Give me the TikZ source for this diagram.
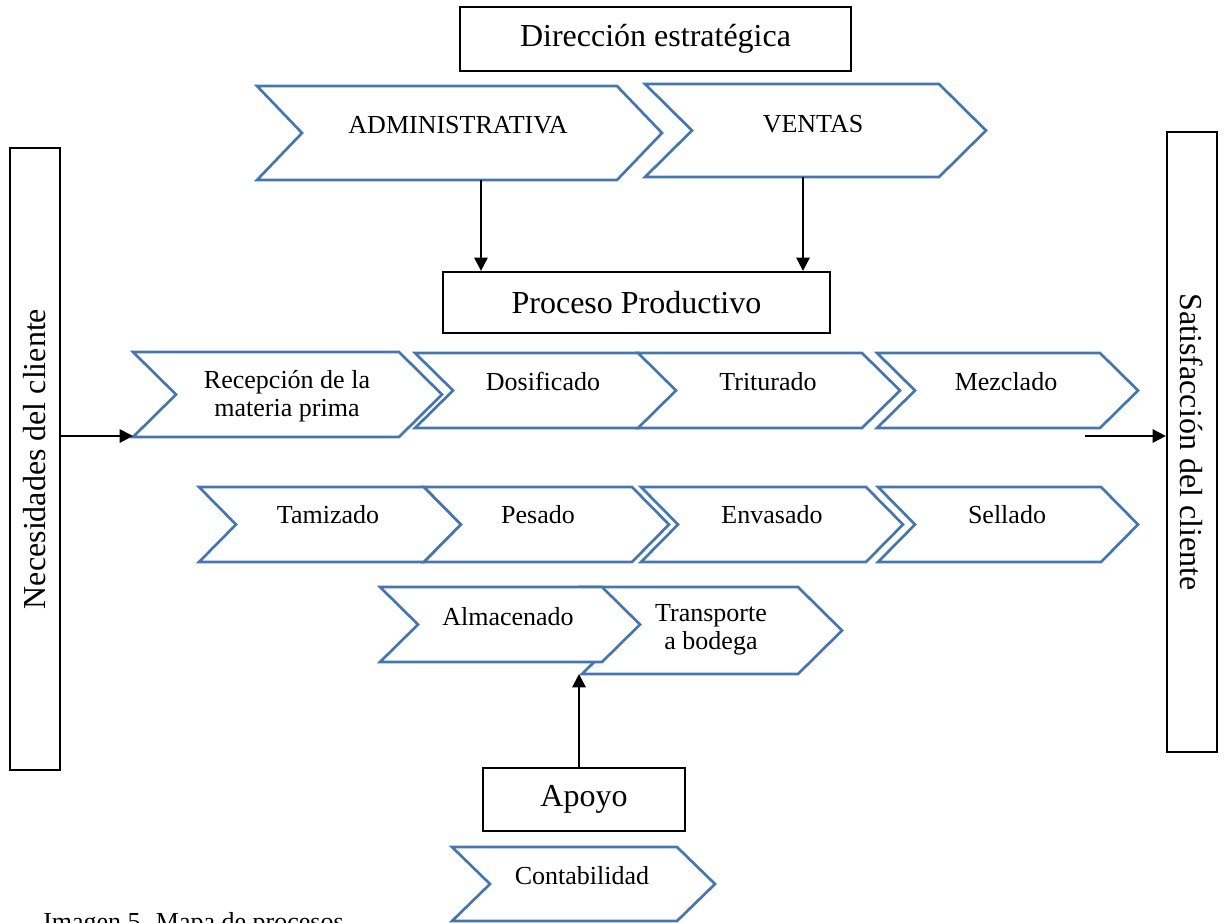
\documentclass[tikz,border=0pt]{standalone}
\usepackage{fontspec}
\usepackage{graphicx}
\setmainfont{Liberation Serif}
\usetikzlibrary{arrows.meta}
\definecolor{chevblue}{RGB}{70,118,176}
\newcommand{\chevshape}[5]{%
  \draw[chev] (#1,#3) -- ({#2-#5},#3) -- (#2,{(#3+#4)/2}) -- ({#2-#5},#4) -- (#1,#4) -- ({#1+#5},{(#3+#4)/2}) -- cycle;}
\begin{document}
\begin{tikzpicture}[x=0.75pt,y=-0.75pt,
  chev/.style={draw=chevblue,line width=2pt,fill=white,line join=miter},
  box/.style={draw=black,line width=1.7pt,fill=white,inner sep=0pt},
  big/.style={font=\fontsize{24}{28}\selectfont},
  small/.style={font=\fontsize{19.5}{21}\selectfont},
  lbl/.style={small,inner sep=0pt,anchor=base},
  lbl2/.style={small,inner sep=0pt,align=center},
  arr/.style={line width=1.5pt,-{Triangle[length=10pt,width=10pt]}}]
\useasboundingbox (0,0) rectangle (1227,922);

% boxes
\node[box,big,minimum width=293pt,minimum height=48pt] (dir) at (655.5,39) {Dirección estratégica};
\node[box,big,minimum width=290pt,minimum height=45.75pt] (proc) at (636.5,302.5) {Proceso Productivo};
\node[box,big,minimum width=151.5pt,minimum height=47pt] (apo) at (584,799.5) {Apoyo};
\node[box,big,minimum width=37.5pt,minimum height=466.5pt] (nec) at (35,459) {\rotatebox{90}{Necesidades del cliente}};
\node[box,big,minimum width=37.5pt,minimum height=465pt] (sat) at (1192,442) {\rotatebox{-90}{Satisfacción del cliente}};

% chevrons
\chevshape{257}{662}{86}{180}{45}
\chevshape{645}{986}{84}{177}{47}
\chevshape{133}{442}{352}{437}{43}
\chevshape{415}{677}{353}{428}{38}
\chevshape{638}{900}{353}{428}{38}
\chevshape{877}{1138}{353}{428}{38}
\chevshape{199}{461}{487}{562}{37}
\chevshape{424}{669}{487}{562}{37}
\chevshape{641}{903}{487}{562}{37}
\chevshape{878}{1138}{487}{562}{37}
\chevshape{582}{842}{587}{674}{44}
\chevshape{380}{640}{587}{662}{38}
\chevshape{452}{715}{847}{921}{38}

% labels
\node[lbl] (adm) at (458,133) {ADMINISTRATIVA};
\node[lbl] (ven) at (813,132) {VENTAS};
\node[lbl2] (rec) at (287,396) {Recepción de la\\materia prima};
\node[lbl] (dos) at (543,390) {Dosificado};
\node[lbl] (tri) at (768,390) {Triturado};
\node[lbl] (mez) at (1006,390) {Mezclado};
\node[lbl] (tam) at (328,523) {Tamizado};
\node[lbl] (pes) at (538,523) {Pesado};
\node[lbl] (env) at (772,523) {Envasado};
\node[lbl] (sel) at (1007,523) {Sellado};
\node[lbl] (alm) at (508,625) {Almacenado};
\node[lbl2] (tra) at (711,630) {Transporte\\a bodega};
\node[lbl] (con) at (582,884) {Contabilidad};
\node[lbl,anchor=base west] (cap) at (43,930) {Imagen 5. Mapa de procesos};

% connectors
\coordinate (admB) at (481,180);
\coordinate (venB) at (803,177);
\coordinate (recBL) at (133,436);
\coordinate (mezOut) at (1085,436);
\coordinate (traB) at (579,674);
\draw[arr] (admB) -- (admB |- proc.north);
\draw[arr] (venB) -- (venB |- proc.north);
\draw[arr] (nec.east |- recBL) -- (recBL);
\draw[arr] (mezOut) -- (mezOut -| sat.west);
\draw[arr] (apo.north -| traB) -- (traB);
\end{tikzpicture}
\end{document}
